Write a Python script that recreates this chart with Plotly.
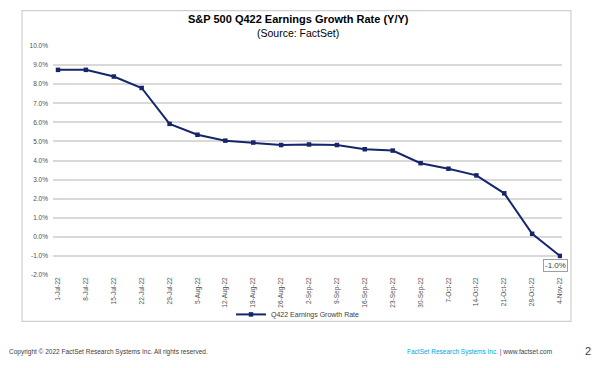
import plotly.graph_objects as go

dates = ["1-Jul-22", "8-Jul-22", "15-Jul-22", "22-Jul-22", "29-Jul-22", "5-Aug-22",
         "12-Aug-22", "19-Aug-22", "26-Aug-22", "2-Sep-22", "9-Sep-22", "16-Sep-22",
         "23-Sep-22", "30-Sep-22", "7-Oct-22", "14-Oct-22", "21-Oct-22", "28-Oct-22",
         "4-Nov-22"]
growth = [8.75, 8.75, 8.4, 7.8, 5.92, 5.35, 5.04, 4.94, 4.81, 4.84, 4.81, 4.59,
          4.52, 3.86, 3.57, 3.22, 2.28, 0.16, -1.0]
series_name = "Q422 Earnings Growth Rate"
y_ticks = [-2, -1, 0, 1, 2, 3, 4, 5, 6, 7, 8, 9, 10]

W, H = 602, 368
L, R, T, B = 53, 562, 45.5, 275  # plot area pixels


def px(x):
    return (x - L) / (R - L)


def py(y):
    return (B - y) / (B - T)


FONT = "Liberation Sans, Arial, sans-serif"
NAVY = "#15266B"

fig = go.Figure()
fig.add_trace(go.Scatter(
    x=list(range(len(dates))), y=growth, mode="lines+markers", name=series_name,
    line=dict(color=NAVY, width=2),
    marker=dict(symbol="square", size=4.5, color=NAVY),
))

fig.update_layout(
    width=W, height=H,
    margin=dict(l=L, r=W - R, t=T, b=H - B),
    paper_bgcolor="white", plot_bgcolor="white",
    font=dict(family=FONT, color="#404040"),
    showlegend=True,
    legend=dict(orientation="h", x=px(298), xanchor="center", y=py(314.5), yanchor="middle",
                font=dict(size=7, color="#404040"), itemwidth=30,
                bgcolor="rgba(0,0,0,0)"),
    xaxis=dict(
        range=[-0.18, 18.07], tickmode="array", tickvals=list(range(len(dates))),
        ticktext=dates, tickangle=-90, showgrid=False, zeroline=False, showline=False,
        ticks="", tickfont=dict(size=6.5, color="#505050"), fixedrange=True,
    ),
    yaxis=dict(
        range=[-2, 10], tickvals=y_ticks, ticktext=[f"{v:.1f}%" for v in y_ticks],
        showgrid=True, gridcolor="#D9D9D9", gridwidth=1.5, zeroline=False,
        showline=False, ticks="", tickfont=dict(size=6.5, color="#505050"),
        ticklabelstandoff=4, fixedrange=True,
    ),
)

# chart box border
fig.add_shape(type="rect", xref="paper", yref="paper",
              x0=px(22), x1=px(571), y0=py(321.5), y1=py(10),
              line=dict(color="#D0D0D0", width=1.2), fillcolor="rgba(0,0,0,0)", layer="below")

ann = []
ann.append(dict(text="<b>S&P 500 Q422 Earnings Growth Rate (Y/Y)</b>", x=px(298), y=py(18),
                font=dict(size=11, color="#000000")))
ann.append(dict(text="(Source: FactSet)", x=px(298), y=py(32),
                font=dict(size=10.5, color="#000000")))
ann.append(dict(text="Copyright © 2022 FactSet Research Systems Inc. All rights reserved.",
                x=px(7), y=py(352), xanchor="left", font=dict(size=6.5, color="#404040")))
ann.append(dict(text="<span style='color:#00A6E6'>FactSet Research Systems Inc.</span>"
                     " <span style='color:#A0307A'>|</span> www.factset.com",
                x=px(405), y=py(352), xanchor="left", font=dict(size=6.5, color="#404040")))
ann.append(dict(text="2", x=px(588), y=py(351), xanchor="center",
                font=dict(size=11, color="#3A4050")))
for a in ann:
    a.setdefault("xanchor", "center")
    a.update(xref="paper", yref="paper", yanchor="middle", showarrow=False)
    fig.add_annotation(**a)

# data label on last point
fig.add_annotation(x=len(dates) - 1, y=growth[-1], xref="x", yref="y",
                   text=f"{growth[-1]:.1f}%", showarrow=False, xshift=-5, yshift=-10,
                   font=dict(size=8, color="#404040"), bordercolor="#A0A0A0", borderwidth=1,
                   borderpad=1, bgcolor="white")

fig.write_html("out.html", config={"displayModeBar": False},
               post_script="document.body.style.margin='0px';")
